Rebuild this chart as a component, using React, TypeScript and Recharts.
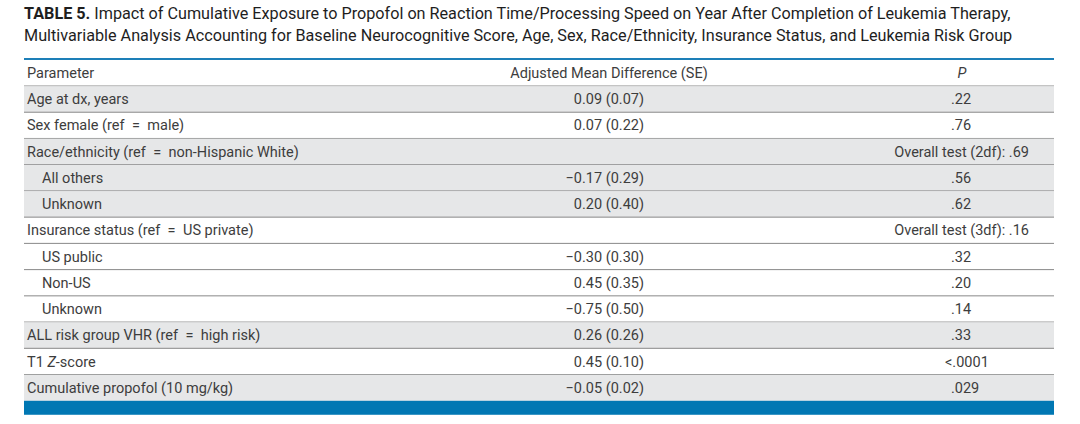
import { BarChart, Bar, XAxis, YAxis } from "recharts";

const TITLE_LINES = [
  "Impact of Cumulative Exposure to Propofol on Reaction Time/Processing Speed on Year After Completion of Leukemia Therapy,",
  "Multivariable Analysis Accounting for Baseline Neurocognitive Score, Age, Sex, Race/Ethnicity, Insurance Status, and Leukemia Risk Group",
];

const HEADERS = ["Parameter", "Adjusted Mean Difference (SE)", "P"];

// en spaces around "=" as in the typeset original
const PARAMETERS = [
  "Age at dx, years",
  "Sex female (ref\u2002=\u2002male)",
  "Race/ethnicity (ref\u2002=\u2002non-Hispanic White)",
  "All others",
  "Unknown",
  "Insurance status (ref\u2002=\u2002US private)",
  "US public",
  "Non-US",
  "Unknown",
  "ALL risk group VHR (ref\u2002=\u2002high risk)",
  "T1 Z-score",
  "Cumulative propofol (10 mg/kg)",
];

const ESTIMATES = [
  "0.09 (0.07)",
  "0.07 (0.22)",
  "",
  "\u22120.17 (0.29)",
  "0.20 (0.40)",
  "",
  "\u22120.30 (0.30)",
  "0.45 (0.35)",
  "\u22120.75 (0.50)",
  "0.26 (0.26)",
  "0.45 (0.10)",
  "\u22120.05 (0.02)",
];

const P_VALUES = [
  ".22",
  ".76",
  "Overall test (2df): .69",
  ".56",
  ".62",
  "Overall test (3df): .16",
  ".32",
  ".20",
  ".14",
  ".33",
  "<.0001",
  ".029",
];

const INDENTED = [false, false, false, true, true, false, true, true, true, false, false, false];
const SHADED = [true, false, true, true, true, false, false, false, false, true, false, true];

const BLUE = "#0077b3";
const SHADE = "#e6e7e8";
const RULE = "#888888";
const INK = "#3d3d3d";
const FONT = "Roboto, 'Noto Sans', sans-serif";

const rows = [
  { key: "header", kind: "header", span: 1 },
  ...PARAMETERS.map((p, i) => ({
    key: `r${i}`,
    kind: "data",
    span: 1,
    param: p,
    est: ESTIMATES[i],
    p: P_VALUES[i],
    indent: INDENTED[i],
    shaded: SHADED[i],
    last: i === PARAMETERS.length - 1,
  })),
];

function ParamLabel({ x, y, text, style }: any) {
  // "T1 Z-score": the Z is italic
  if (text.startsWith("T1 Z")) {
    return (
      <text x={x} y={y} {...style}>
        T1 <tspan fontStyle="italic">Z</tspan>
        {text.slice(4)}
      </text>
    );
  }
  return (
    <text x={x} y={y} {...style}>
      {text}
    </text>
  );
}

function RowShape(props: any) {
  const { x, y, width, height, payload } = props;
  const ty = y + height / 2 + 5;
  const textProps = { fontFamily: FONT, fontSize: 14.5, fill: INK };

  if (payload.kind === "header") {
    return (
      <g>
        <rect x={x} y={y - 2} width={width} height={2} fill="#1d7fb8" />
        <text x={x + 3} y={ty} {...textProps}>{HEADERS[0]}</text>
        <text x={x + 585} y={ty} textAnchor="middle" {...textProps}>{HEADERS[1]}</text>
        <text x={x + 938} y={ty} textAnchor="middle" fontStyle="italic" {...textProps}>{HEADERS[2]}</text>
        <line x1={x} x2={x + width} y1={y + height} y2={y + height} stroke={RULE} strokeWidth={1} />
      </g>
    );
  }

  const overall = payload.p.startsWith("Overall");
  const lessThan = payload.p.startsWith("<");
  return (
    <g>
      {payload.shaded && <rect x={x} y={y} width={width} height={height} fill={SHADE} />}
      <ParamLabel x={x + (payload.indent ? 18 : 3)} y={ty} text={payload.param} style={textProps} />
      {payload.est && (
        <text x={x + 620} y={ty} textAnchor="end" {...textProps}>{payload.est}</text>
      )}
      {overall ? (
        <text x={x + 1005} y={ty} textAnchor="end" {...textProps}>{payload.p}</text>
      ) : (
        <text x={x + (lessThan ? 921 : 927)} y={ty} {...textProps}>{payload.p}</text>
      )}
      {payload.last ? (
        <rect x={x} y={y + height} width={width} height={14} fill={BLUE} />
      ) : (
        <line x1={x} x2={x + width} y1={y + height} y2={y + height} stroke={RULE} strokeWidth={1} />
      )}
    </g>
  );
}

export default function App() {
  return (
    <div
      style={{
        position: "absolute",
        left: 0,
        top: 0,
        width: 1080,
        height: 424,
        background: "#fff",
        overflow: "hidden",
      }}
    >
      <div
        style={{
          position: "absolute",
          left: 24,
          top: 3,
          fontFamily: FONT,
          fontSize: 16.2,
          lineHeight: "22px",
          color: "#1e1e1e",
          whiteSpace: "nowrap",
        }}
      >
        <div>
          <b>TABLE 5.</b> {TITLE_LINES[0]}
        </div>
        <div>{TITLE_LINES[1]}</div>
      </div>
      <div style={{ position: "absolute", left: 0, top: 0 }}>
        <BarChart
          width={1080}
          height={424}
          data={rows}
          layout="vertical"
          margin={{ top: 60, right: 26, bottom: 23, left: 24 }}
          barCategoryGap={0}
        >
          <XAxis type="number" domain={[0, 1]} hide />
          <YAxis type="category" dataKey="key" hide />
          <Bar dataKey="span" isAnimationActive={false} shape={RowShape} />
        </BarChart>
      </div>
    </div>
  );
}
